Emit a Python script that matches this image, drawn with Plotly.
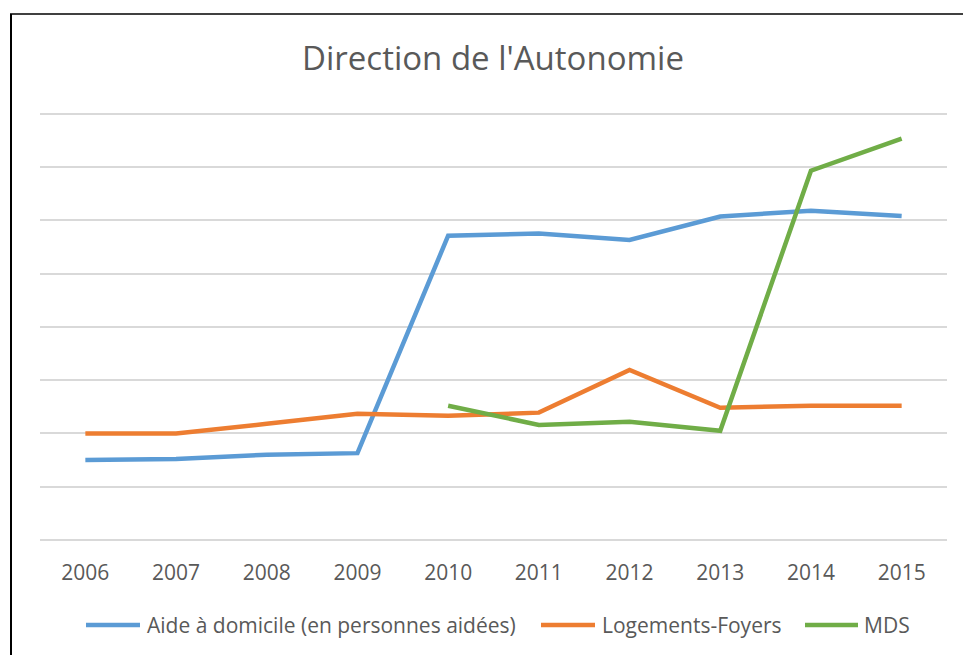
import plotly.graph_objects as go

years = ["2006", "2007", "2008", "2009", "2010", "2011", "2012", "2013", "2014", "2015"]
aide = [1.50, 1.52, 1.60, 1.63, 5.71, 5.75, 5.63, 6.07, 6.18, 6.08]
logements = [2.00, 2.00, 2.18, 2.37, 2.33, 2.39, 3.19, 2.48, 2.52, 2.52]
mds = [None, None, None, None, 2.52, 2.16, 2.22, 2.05, 6.93, 7.53]

names = ["Aide à domicile (en personnes aidées)", "Logements-Foyers", "MDS"]
colors = ["#5b9bd5", "#ed7d31", "#70ad47"]

fig = go.Figure()
for name, vals, c in zip(names, [aide, logements, mds], colors):
    fig.add_trace(go.Scatter(x=years, y=vals, name=name, mode="lines",
                             line=dict(color=c, width=4.5), connectgaps=False,
                             showlegend=False))

W, H = 963, 655
L, R, T, B = 40, 16, 111, 115
fig.update_layout(
    width=W, height=H,
    margin=dict(l=L, r=R, t=T, b=B),
    paper_bgcolor="white", plot_bgcolor="white",
    font=dict(family="Open Sans", color="#595959"),
    title=dict(text="Direction de l'Autonomie", x=493 / W, xref="container", xanchor="center",
               y=1 - 58 / H, yanchor="middle",
               font=dict(size=33, color="#595959", family="Open Sans")),
    showlegend=False,
    xaxis=dict(type="category", range=[-0.5, 9.5], showgrid=False, zeroline=False,
               showline=False, ticks="outside", ticklen=14, tickcolor="rgba(0,0,0,0)",
               tickfont=dict(size=21, color="#595959")),
    yaxis=dict(range=[0, 8.05], tickvals=[0, 1, 2, 3, 4, 5, 6, 7, 8], showgrid=True,
               gridcolor="#d9d9d9", gridwidth=1.5,
               showticklabels=False, zeroline=True, zerolinecolor="#d9d9d9",
               zerolinewidth=1.5, ticks=""),
)

pw, ph = W - L - R, H - T - B
def px(x):
    return (x - L) / pw
def py(y):
    return (H - B - y) / ph

# chart border (left and top edges visible)
fig.add_shape(type="line", xref="paper", yref="paper", x0=px(11), x1=px(11), y0=py(14), y1=py(660),
              line=dict(color="black", width=2))
fig.add_shape(type="line", xref="paper", yref="paper", x0=px(10), x1=px(970), y0=py(14), y1=py(14),
              line=dict(color="black", width=1.5))

# legend drawn below the plot
leg_y = 625
leg_items = [(86, 140, 145), (541, 595, 600), (805, 858, 862)]
for (x0, x1, tx), name, c in zip(leg_items, names, colors):
    fig.add_shape(type="line", xref="paper", yref="paper", x0=px(x0), x1=px(x1),
                  y0=py(leg_y), y1=py(leg_y), line=dict(color=c, width=4.5))
    fig.add_annotation(xref="paper", yref="paper", x=px(tx), y=py(leg_y), text=name,
                       showarrow=False, xanchor="left", yanchor="middle",
                       font=dict(size=21, color="#595959", family="Open Sans"))

fig.write_html("out.html", config={"displayModeBar": False},
               post_script="document.body.style.margin='0';")
